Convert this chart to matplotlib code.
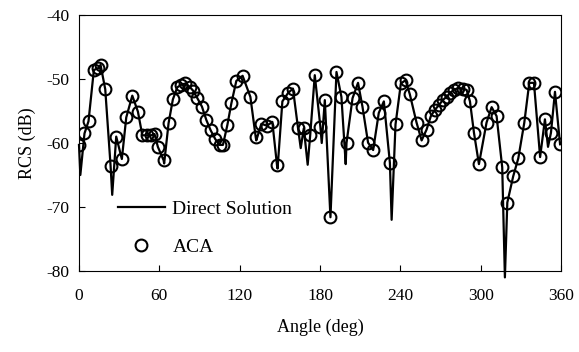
import matplotlib
matplotlib.use("Agg")
import matplotlib.pyplot as plt
import numpy as np

# ACA samples (angle in deg, RCS in dB)
aca_angle = [0.0, 4.1, 7.1, 11.1, 14.4, 16.1, 19.6, 23.6, 27.8, 32.0, 35.3, 39.8,
             44.0, 47.3, 50.7, 54.0, 56.4, 58.9, 63.2, 66.9, 70.1, 73.4, 76.4, 79.4,
             82.6, 85.1, 88.4, 91.8, 95.1, 98.3, 101.8, 105.0, 107.5, 110.8, 113.8,
             117.5, 122.2, 128.0, 132.0, 136.2, 140.4, 144.4, 147.9, 151.9, 156.1,
             159.8, 163.6, 167.9, 172.7, 176.1, 180.3, 183.6, 187.8, 192.3, 196.0,
             199.8, 204.3, 208.4, 211.7, 215.9, 219.7, 223.9, 227.7, 232.2, 236.4,
             240.4, 243.9, 247.1, 252.1, 255.9, 259.6, 262.8, 265.8, 268.8, 271.6,
             274.5, 277.0, 280.0, 283.2, 286.5, 289.5, 292.0, 295.0, 298.7, 304.4,
             308.2, 311.9, 316.1, 319.9, 324.3, 328.1, 332.6, 336.3, 339.8, 344.4,
             348.0, 352.5, 355.5, 359.3]
aca_rcs = [-60.3, -58.5, -56.6, -48.6, -48.3, -47.8, -51.6, -63.6, -59.0, -62.5, -56.0, -52.6,
           -55.1, -58.8, -58.8, -58.8, -58.6, -60.6, -62.7, -56.9, -53.2, -51.3, -50.9, -50.7,
           -51.2, -51.8, -53.0, -54.3, -56.4, -58.0, -59.4, -60.3, -60.3, -57.2, -53.8,
           -50.3, -49.5, -52.8, -59.1, -57.0, -57.3, -56.7, -63.5, -53.5, -52.2,
           -51.5, -57.7, -57.7, -58.75, -49.4, -57.5, -53.3, -71.6, -48.9, -52.8,
           -60.0, -53.0, -50.6, -54.3, -59.95, -61.1, -55.3, -53.5, -63.1, -57.1,
           -50.7, -50.2, -52.4, -56.8, -59.6, -57.9, -55.8, -54.8, -54.1, -53.3,
           -52.8, -52.2, -51.7, -51.4, -51.5, -51.7, -53.5, -58.4, -63.3, -56.8,
           -54.4, -55.8, -63.8, -69.3, -65.2, -62.4, -56.8, -50.6, -50.6, -62.2,
           -56.3, -58.4, -52.0, -60.2]

# Extra deep nulls of the direct solution (between ACA samples)
null_angle = [1.0, 24.8, 63.6, 132.4, 148.3, 165.6, 170.8, 181.3, 199.2, 233.5, 318.1, 350.3]
null_rcs = [-65.0, -68.1, -63.2, -59.6, -64.0, -60.8, -63.4, -60.0, -63.3, -72.0, -81.0, -60.6]

x_ticks = [0, 60, 120, 180, 240, 300, 360]
y_ticks = [-80, -70, -60, -50, -40]

direct = sorted(zip(aca_angle + null_angle, aca_rcs + null_rcs))
direct_angle = [a for a, _ in direct]
direct_rcs = [r for _, r in direct]

plt.rcParams['font.family'] = ['Liberation Serif', 'DejaVu Serif']
plt.rcParams['axes.unicode_minus'] = False

fig = plt.figure(figsize=(5.79, 3.52), dpi=100)
ax = fig.add_axes([79/579, 1-271/352, (561-79)/579, (271-15)/352])

ax.plot(direct_angle, direct_rcs, color='black', lw=1.6, label='Direct Solution',
        clip_on=False, zorder=3)
ax.plot(aca_angle, aca_rcs, linestyle='none', marker='o', ms=8.5, mfc='none',
        mec='black', mew=1.5, label='ACA', zorder=4)

ax.set_xlim(0, 360)
ax.set_ylim(-80, -40)
ax.set_xticks(x_ticks)
ax.set_yticks(y_ticks)
ax.tick_params(direction='in', length=4, width=0.8, labelsize=12.5)
ax.tick_params(axis='x', pad=12)
ax.tick_params(axis='y', pad=7)
for s in ax.spines.values():
    s.set_linewidth(0.8)
ax.set_xlabel('Angle (deg)', fontsize=13, labelpad=11)
ax.set_ylabel('RCS (dB)', fontsize=13, labelpad=7)

ax.legend(loc='upper left', bbox_to_anchor=(0.081, 0.275), frameon=False,
          fontsize=14, borderpad=0, handlelength=2.4, handletextpad=0.4,
          labelspacing=1.05, borderaxespad=0)

fig.savefig('out.png', dpi=100)
